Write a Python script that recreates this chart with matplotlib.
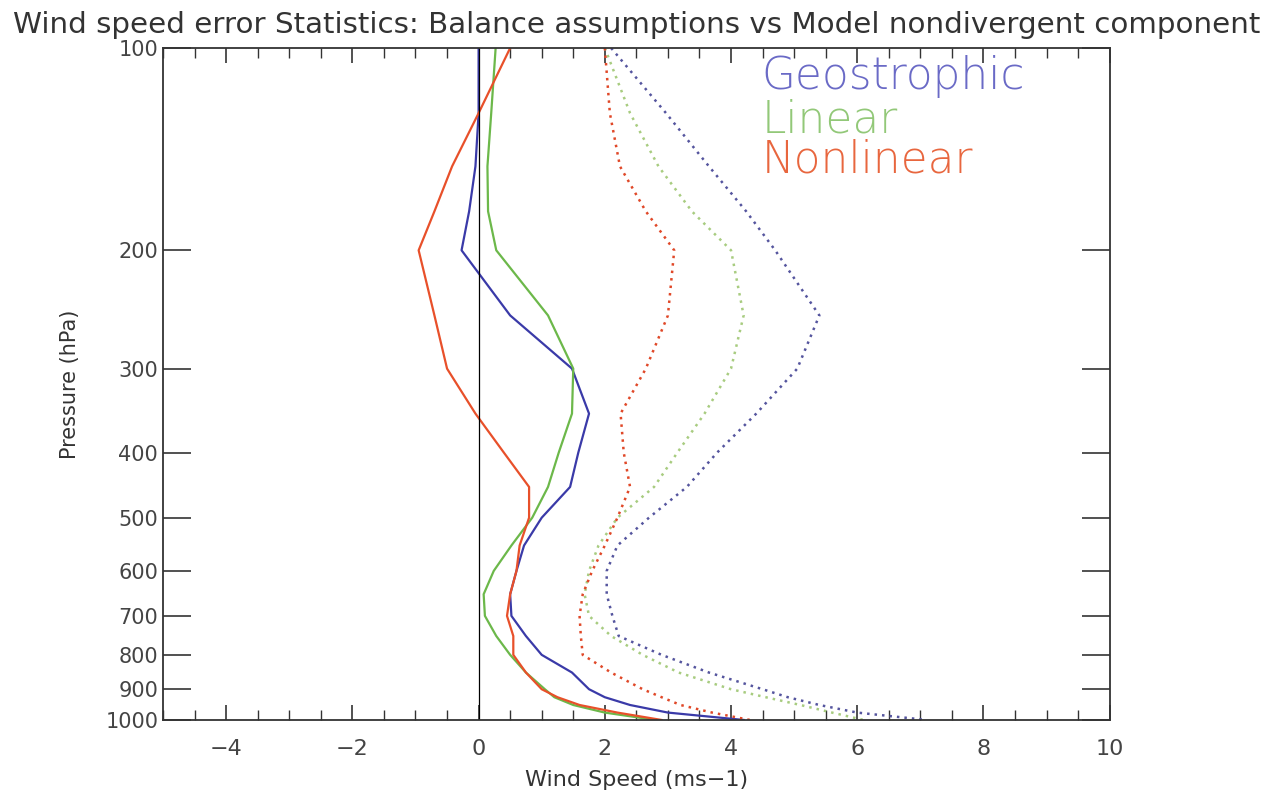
import numpy as np
import matplotlib
matplotlib.use("Agg")
import matplotlib.pyplot as plt
from matplotlib.ticker import FixedLocator, MultipleLocator, NullLocator

# pressure levels (hPa)
pressure = [100, 125, 150, 175, 200, 250, 300, 350, 400, 450, 500, 550, 600,
            650, 700, 750, 800, 850, 900, 925, 950, 975, 1000]

# mean error (solid)
geo_mean = [0.0, 0.0, -0.05, -0.15, -0.27, 0.5, 1.48, 1.75, 1.58, 1.45, 1.0, 0.72,
            0.6, 0.5, 0.52, 0.75, 1.0, 1.48, 1.75, 2.0, 2.4, 3.0, 4.2]
lin_mean = [0.27, 0.2, 0.14, 0.15, 0.28, 1.1, 1.5, 1.48, 1.27, 1.1, 0.85, 0.52,
            0.24, 0.08, 0.1, 0.28, 0.5, 0.75, 1.05, 1.2, 1.5, 2.0, 2.8]
nonlin_mean = [0.5, 0.0, -0.42, -0.7, -0.95, -0.7, -0.5, -0.05, 0.4, 0.8, 0.8, 0.65,
               0.6, 0.5, 0.45, 0.55, 0.55, 0.75, 1.0, 1.25, 1.6, 2.2, 2.9]

# rms error (dotted)
geo_rms = [2.1, 2.97, 3.65, 4.24, 4.7, 5.4, 5.05, 4.4, 3.78, 3.3, 2.7, 2.2,
           2.03, 2.03, 2.12, 2.22, 2.9, 3.65, 4.5, 4.9, 5.4, 6.0, 7.1]
lin_rms = [2.0, 2.4, 2.85, 3.38, 4.0, 4.2, 4.0, 3.58, 3.15, 2.78, 2.2, 1.9,
           1.75, 1.68, 1.75, 2.1, 2.6, 3.17, 4.0, 4.55, 5.1, 5.6, 6.1]
nonlin_rms = [2.0, 2.08, 2.24, 2.65, 3.1, 3.0, 2.65, 2.25, 2.3, 2.4, 2.2, 2.0,
              1.8, 1.65, 1.6, 1.62, 1.65, 2.1, 2.6, 2.9, 3.2, 3.7, 4.3]

labels = ["Geostrophic", "Linear", "Nonlinear"]
yticks = [100, 200, 300, 400, 500, 600, 700, 800, 900, 1000]

fig = plt.figure(figsize=(12.74, 7.91), dpi=100)
ax = fig.add_axes([0.128, 0.0898, 0.743, 0.8495])

dots = (0, (1, 2))
ax.plot(geo_mean, pressure, color="#3a3aa8", lw=1.6)
ax.plot(lin_mean, pressure, color="#6cb84a", lw=1.6)
ax.plot(nonlin_mean, pressure, color="#e8502a", lw=1.6)
ax.plot(geo_rms, pressure, color="#55559e", lw=1.8, ls=dots)
ax.plot(lin_rms, pressure, color="#a8cc80", lw=1.8, ls=dots)
ax.plot(nonlin_rms, pressure, color="#e04828", lw=1.8, ls=dots)
ax.axvline(0, color="black", lw=0.9)

ax.set_yscale("log")
ax.set_ylim(1000, 100)
ax.set_xlim(-5, 10)
ax.yaxis.set_major_locator(FixedLocator(yticks))
ax.yaxis.set_minor_locator(NullLocator())
ax.set_yticklabels([str(v) for v in yticks])
ax.xaxis.set_major_locator(MultipleLocator(2))
ax.xaxis.set_minor_locator(MultipleLocator(0.5))

ax.tick_params(axis="y", which="major", direction="in", length=20, width=1.2,
               right=True, labelsize=15, labelcolor="#444444", color="#333333")
ax.tick_params(axis="x", which="major", direction="in", length=11, width=1.2,
               top=True, labelsize=16, labelcolor="#444444", color="#333333", pad=13.5)
ax.tick_params(axis="x", which="minor", direction="in", length=7, width=1.0,
               top=True, color="#333333")
for s in ax.spines.values():
    s.set_color("#333333")
    s.set_linewidth(1.3)

ax.set_xlabel("Wind Speed (ms\u22121)", fontsize=16, color="#333333", labelpad=8)
ax.set_ylabel("Pressure (hPa)", fontsize=15, color="#333333", labelpad=18)
fig.text(0.5, 0.968, "Wind speed error Statistics: Balance assumptions vs Model nondivergent component",
         ha="center", va="center", fontsize=21.2, color="#333333")

text_colors = ["#6a6ac6", "#92c878", "#e8663e"]
text_y = [0.957, 0.893, 0.833]
for lab, c, ty in zip(labels, text_colors, text_y):
    ax.text(0.632, ty, lab, transform=ax.transAxes, fontsize=31.5, color=c,
            ha="left", va="center", fontweight="light")

fig.savefig("out.png", dpi=100)
